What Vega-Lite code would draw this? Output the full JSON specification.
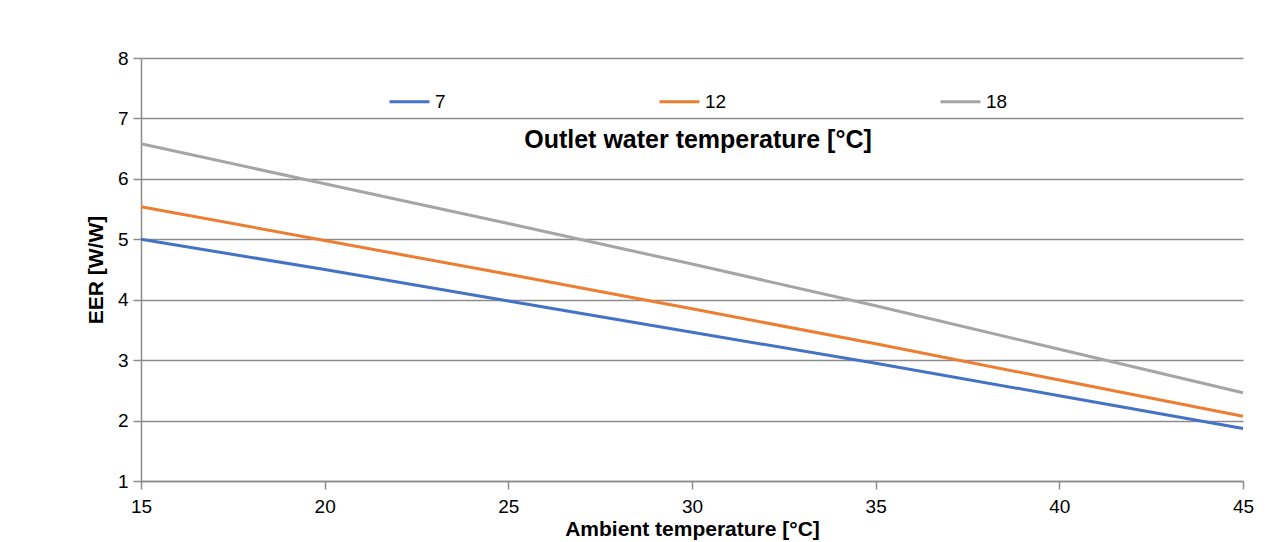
{
  "$schema": "https://vega.github.io/schema/vega-lite/v6.json",
  "autosize": {"type": "none"},
  "width": 1102,
  "height": 423,
  "padding": {"left": 141, "top": 58, "right": 23, "bottom": 61},
  "background": "white",
  "config": {
    "font": "Liberation Sans",
    "view": {"stroke": null},
    "axis": {"labelFont": "Liberation Sans", "titleFont": "Liberation Sans"}
  },
  "data": {
    "values": [
      {"T": 15, "outlet": "7", "EER": 5.0},
      {"T": 20, "outlet": "7", "EER": 4.5},
      {"T": 25, "outlet": "7", "EER": 3.98},
      {"T": 30, "outlet": "7", "EER": 3.46},
      {"T": 35, "outlet": "7", "EER": 2.95},
      {"T": 40, "outlet": "7", "EER": 2.41},
      {"T": 45, "outlet": "7", "EER": 1.87},
      {"T": 15, "outlet": "12", "EER": 5.54},
      {"T": 20, "outlet": "12", "EER": 4.98},
      {"T": 25, "outlet": "12", "EER": 4.42},
      {"T": 30, "outlet": "12", "EER": 3.85},
      {"T": 35, "outlet": "12", "EER": 3.27},
      {"T": 40, "outlet": "12", "EER": 2.67},
      {"T": 45, "outlet": "12", "EER": 2.07},
      {"T": 15, "outlet": "18", "EER": 6.58},
      {"T": 20, "outlet": "18", "EER": 5.92},
      {"T": 25, "outlet": "18", "EER": 5.26},
      {"T": 30, "outlet": "18", "EER": 4.59},
      {"T": 35, "outlet": "18", "EER": 3.9},
      {"T": 40, "outlet": "18", "EER": 3.18},
      {"T": 45, "outlet": "18", "EER": 2.46}
    ]
  },
  "mark": {"type": "line", "strokeWidth": 3},
  "encoding": {
    "x": {
      "field": "T", "type": "quantitative",
      "scale": {"domain": [15, 45], "nice": false, "zero": false},
      "axis": {
        "values": [15, 20, 25, 30, 35, 40, 45],
        "grid": false,
        "labelFlush": false,
        "domainColor": "#8c8c8c", "domainWidth": 1.5,
        "tickColor": "#8c8c8c", "tickWidth": 1.5, "tickSize": 8,
        "labelFontSize": 19, "labelColor": "#000", "labelPadding": 8,
        "title": "Ambient temperature [°C]",
        "titleFontSize": 21, "titleFontWeight": "bold", "titleColor": "#000",
        "titlePadding": 2
      }
    },
    "y": {
      "field": "EER", "type": "quantitative",
      "scale": {"domain": [1, 8], "nice": false, "zero": false},
      "axis": {
        "values": [1, 2, 3, 4, 5, 6, 7, 8],
        "grid": true, "gridColor": "#8c8c8c", "gridWidth": 1.5,
        "domainColor": "#8c8c8c", "domainWidth": 1.5,
        "tickColor": "#8c8c8c", "tickWidth": 1.5, "tickSize": 8,
        "labelFontSize": 19, "labelColor": "#000", "labelPadding": 5,
        "title": "EER [W/W]",
        "titleFontSize": 21, "titleFontWeight": "bold", "titleColor": "#000",
        "titlePadding": 11
      }
    },
    "color": {
      "field": "outlet", "type": "nominal",
      "sort": ["7", "12", "18"],
      "scale": {"domain": ["7", "12", "18"], "range": ["#4472C4", "#ED7D31", "#A5A5A5"]},
      "legend": {
        "orient": "none",
        "legendX": 247,
        "legendY": 22,
        "direction": "horizontal",
        "columns": 3,
        "columnPadding": 207,
        "symbolType": "stroke",
        "symbolSize": 1600,
        "symbolStrokeWidth": 3,
        "labelFontSize": 19,
        "labelColor": "#000",
        "labelOffset": 4,
        "title": "Outlet water temperature  [°C]",
        "titleLimit": 800,
        "titleOrient": "bottom",
        "titleAnchor": "middle",
        "titleFontSize": 25,
        "titleFontWeight": "bold",
        "titleColor": "#000",
        "titlePadding": 16
      }
    }
  }
}
